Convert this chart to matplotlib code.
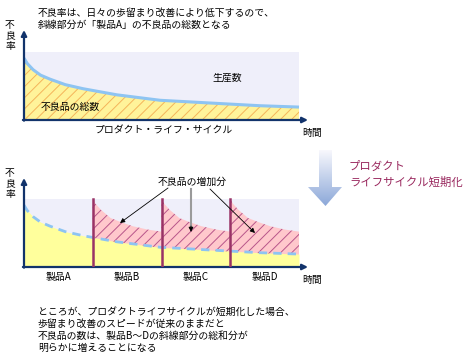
import matplotlib.pyplot as plt
import matplotlib.patches as mpatches
import numpy as np

plt.rcParams['font.family'] = ['Noto Sans CJK JP', 'DejaVu Sans']
plt.rcParams['hatch.linewidth'] = 0.7

W, H = 476, 356

# defect rate of product A over its life (time 0..1, rate 0..1 = production)
life_t = [0, 0.012, 0.033, 0.06, 0.095, 0.15, 0.215, 0.338, 0.495, 0.676, 0.858, 1.0]
life_rate = [0.91, 0.83, 0.74, 0.66, 0.60, 0.52, 0.46, 0.37, 0.29, 0.25, 0.21, 0.19]

# one short product cycle (fraction of the cycle, rate)
cycle_frac = [0, 0.04, 0.12, 0.26, 0.41, 0.58, 0.80, 1.0]
cycle_rate = [1.0, 0.93, 0.84, 0.72, 0.66, 0.60, 0.55, 0.52]

products = ['製品A', '製品B', '製品C', '製品D']
product_start = [0.0, 0.25, 0.5, 0.75]
cycle_len = 0.25

navy = '#12336b'
lavender = '#efeffa'
blue_line = '#8ec4f2'
magenta = '#993366'

fig = plt.figure(figsize=(W / 100, H / 100), dpi=100)


def px_axes(x0, y0, x1, y1):
    return fig.add_axes([x0 / W, 1 - y1 / H, (x1 - x0) / W, (y1 - y0) / H])


def draw_axes_arrows(ax):
    xmax = ax.get_xlim()[1]
    ymax = ax.get_ylim()[1]
    ap = dict(arrowstyle='-|>', color=navy, lw=1.6, mutation_scale=8, shrinkA=0, shrinkB=0)
    ax.annotate('', xy=(xmax, 0), xytext=(-0.004, 0), arrowprops=ap, annotation_clip=False)
    ax.annotate('', xy=(0, ymax), xytext=(0, -0.01), arrowprops=ap, annotation_clip=False)
    ax.axis('off')


# ---- top chart
ax1 = px_axes(24, 30, 308, 120)
ax1.set_xlim(0, 284 / 275)
ax1.set_ylim(0, 90 / 68)
ax1.fill_between([0, 1], 0, 1, color=lavender, lw=0)
ax1.fill_between(life_t, 0, life_rate, facecolor='#fff39a', edgecolor='#f4b45a',
                 hatch='///', lw=0)
ax1.plot(life_t, life_rate, color=blue_line, lw=2.2, solid_capstyle='butt')
draw_axes_arrows(ax1)

# ---- bottom chart
ax2 = px_axes(24, 178, 308, 267)
ax2.set_xlim(0, 284 / 275)
ax2.set_ylim(0, 89 / 68)
ax2.fill_between([0, 1], 0, 1, color=lavender, lw=0)
for start in product_start[1:]:
    xs = [start + f * cycle_len for f in cycle_frac]
    ax2.fill_between(xs, 0, cycle_rate, facecolor='#ffc8cc', edgecolor='#b8558a',
                     hatch='///', lw=0, zorder=1)
ax2.fill_between(life_t, 0, life_rate, color='#ffff9c', lw=0, zorder=2)
ax2.plot(life_t, life_rate, color=blue_line, lw=2.0, dashes=(3, 2.2), zorder=3)
for start in product_start[1:]:
    ax2.plot([start, start], [0, 1], color=magenta, lw=1.8, zorder=4)
draw_axes_arrows(ax2)

# ---- overlay in pixel coordinates for labels
ov = fig.add_axes([0, 0, 1, 1], zorder=5)
ov.set_xlim(0, W)
ov.set_ylim(H, 0)
ov.axis('off')
ov.patch.set_alpha(0)

fs = 7.1
ov.text(38, 13, '不良率は、日々の歩留まり改善により低下するので、', fontsize=fs, va='center')
ov.text(38, 25, '斜線部分が「製品A」の不良品の総数となる', fontsize=fs, va='center')
for y0 in (25, 173):
    for i, ch in enumerate('不良率'):
        ov.text(10, y0 + i * 10.5, ch, fontsize=fs, ha='center', va='center')
ov.text(227, 78, '生産数', fontsize=fs, ha='center', va='center')
ov.text(70, 107, '不良品の総数', fontsize=fs, ha='center', va='center')
ov.text(164, 131, 'プロダクト・ライフ・サイクル', fontsize=fs, ha='center', va='center')
ov.text(302, 133, '時間', fontsize=fs, va='center')
ov.text(302, 280, '時間', fontsize=fs, va='center')

for name, start in zip(products, product_start):
    cx = 24 + (start + cycle_len / 2) * 275
    ov.text(cx, 277, name, fontsize=fs, ha='center', va='center')

ov.text(192, 182, '不良品の増加分', fontsize=fs, ha='center', va='center')
thin = dict(arrowstyle='-|>', color='black', lw=0.6, mutation_scale=7, shrinkA=0, shrinkB=0)
ov.annotate('', xy=(120, 223), xytext=(168, 188), arrowprops=thin)
ov.annotate('', xy=(255, 233), xytext=(210, 189), arrowprops=thin)
ov.plot([191, 191], [189, 226], color='#9a9a9a', lw=1.5)
ov.annotate('', xy=(191, 232), xytext=(191, 226), arrowprops=thin)

# big gradient arrow
arrow_xy = [(319, 150), (332, 150), (332, 187), (342, 187), (325.5, 206),
            (308, 187), (319, 187)]
poly = mpatches.Polygon(arrow_xy, closed=True, facecolor='none', edgecolor='none')
ov.add_patch(poly)
top_c = np.array([0.97, 0.97, 0.99])
bot_c = np.array([0.55, 0.66, 0.85])
g = np.linspace(0, 1, 60)[:, None, None]
grad = top_c * (1 - g) + bot_c * g
grad = np.repeat(grad, 2, axis=1)
img = ov.imshow(grad, extent=(308, 342, 206, 150), origin='upper', aspect='auto',
                interpolation='bilinear')
img.set_clip_path(poly)
ov.set_xlim(0, W)
ov.set_ylim(H, 0)

ov.text(349, 166, 'プロダクト', fontsize=8.2, color='#99285e', va='center')
ov.text(349, 182, 'ライフサイクル短期化', fontsize=8.2, color='#99285e', va='center')

bottom_lines = [
    'ところが、プロダクトライフサイクルが短期化した場合、',
    '歩留まり改善のスピードが従来のままだと',
    '不良品の数は、製品B～Dの斜線部分の総和分が',
    '明らかに増えることになる',
]
for i, line in enumerate(bottom_lines):
    ov.text(38, 312 + i * 12, line, fontsize=fs, va='center')

fig.savefig('out.png', dpi=100)
